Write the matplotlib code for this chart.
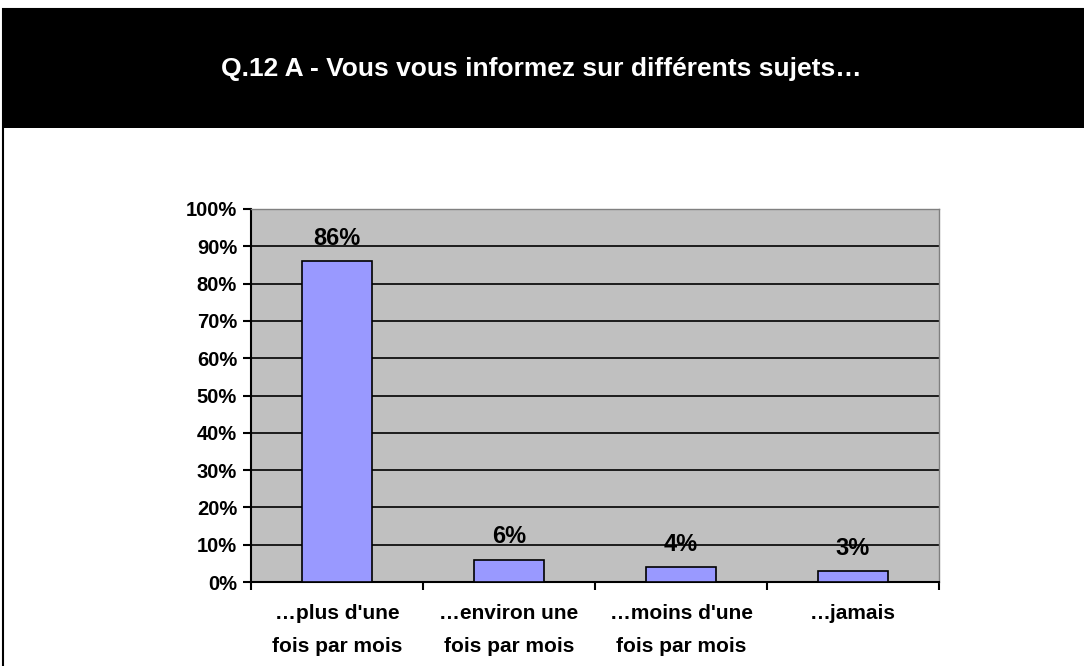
import numpy as np
import matplotlib.pyplot as plt
from matplotlib.patches import Rectangle

categories = ["…plus d'une\nfois par mois", "…environ une\nfois par mois",
              "…moins d'une\nfois par mois", "…jamais"]
values = [86, 6, 4, 3]
yticks = list(range(0, 101, 10))
title = "Q.12 A - Vous vous informez sur différents sujets…"

plt.rcParams['font.family'] = ['Liberation Sans', 'DejaVu Sans']
plt.rcParams['font.weight'] = 'bold'

W, H = 1084, 666
fig = plt.figure(figsize=(W / 100, H / 100), dpi=100)
fig.patch.set_facecolor('white')

# black header band and box outline
fig.patches.append(Rectangle((3 / W, 1 - 128 / H), 1, 119 / H, transform=fig.transFigure,
                             facecolor='black', edgecolor='none', zorder=0))
fig.patches.append(Rectangle((3 / W, -0.1), 1, 1 - 9 / H + 0.1, transform=fig.transFigure,
                             facecolor='none', edgecolor='black', linewidth=1.5, zorder=0))
fig.text(541 / W, 1 - 69 / H, title, color='white', fontsize=19, fontweight='bold',
         ha='center', va='center')

ax = fig.add_axes([251 / W, 1 - 582 / H, (939 - 251) / W, (582 - 209) / H])
ax.set_facecolor('#c0c0c0')
x = np.arange(len(categories))
ax.bar(x, values, width=0.41, color='#9999ff', edgecolor='black', linewidth=1.2, zorder=3)
for xi, v in zip(x, values):
    ax.text(xi, v + 3, f"{v}%", ha='center', va='bottom', fontsize=17,
            fontweight='bold', zorder=4)

ax.set_xlim(-0.5, len(categories) - 0.5)
ax.set_ylim(0, 100)
ax.set_yticks(yticks)
ax.set_yticklabels([f"{t}%" for t in yticks], fontsize=14.5, fontweight='bold')
for t in yticks[1:-1]:
    ax.axhline(t, color='black', linewidth=1.2, zorder=2)
ax.set_xticks(x)
ax.set_xticklabels(categories, fontsize=15, fontweight='bold', linespacing=1.9)
ax.set_xticks(np.arange(len(categories) + 1) - 0.5, minor=True)
ax.tick_params(axis='x', which='major', length=0, pad=16)
ax.tick_params(axis='x', which='minor', length=6, width=1.5, direction='out')
ax.tick_params(axis='y', length=6, width=1.5, direction='out', pad=4)

for side in ['top', 'right']:
    ax.spines[side].set_color('#808080')
    ax.spines[side].set_linewidth(1)
ax.spines['left'].set_linewidth(1.5)
ax.spines['bottom'].set_linewidth(1.5)

fig.savefig('out.png', dpi=100)
